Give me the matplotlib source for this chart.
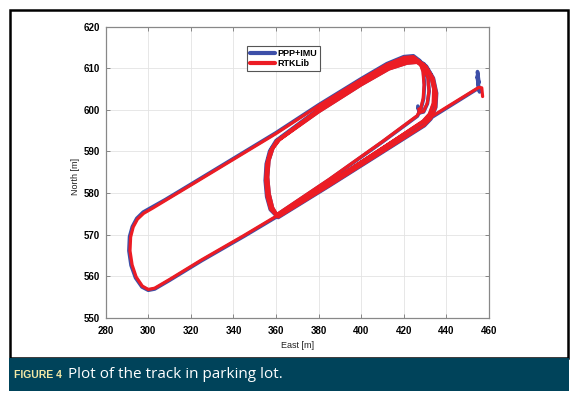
import matplotlib
matplotlib.use("Agg")
import matplotlib.pyplot as plt
from matplotlib.patches import Rectangle

# ---------------- data ----------------
red_east = [457.0, 456.6, 455.2,
            440.0, 425.0, 400.0, 380.0, 362.0,
            345.0, 325.0, 310.0, 303.0, 300.0, 297.2, 294.3, 292.4, 291.4, 291.7, 292.9, 294.9, 297.8, 302.2, 308.0,
            320.0, 340.0, 360.0, 380.0, 400.0, 412.0, 420.0, 424.5, 427.4, 429.0, 429.5, 429.1, 428.0, 426.3,
            410.0, 385.0, 360.0,
            357.4, 355.8, 355.1, 355.6, 357.2, 360.2,
            380.0, 400.0, 412.0, 420.0, 425.5, 429.5, 432.5, 434.0, 433.8, 432.0, 429.0,
            410.0, 385.0, 360.6,
            358.0, 356.3, 355.6, 356.2, 358.0, 361.0,
            380.0, 400.0, 413.0, 421.0, 426.0, 430.5, 433.8, 435.3, 434.9, 432.6, 429.6,
            410.0, 385.0, 361.0,
            358.4, 356.8, 356.1, 356.7, 358.6, 361.6,
            380.0, 400.0, 413.0, 421.5, 426.2, 429.5, 431.3, 431.8, 431.0, 429.2, 427.6, 427.0]
red_north = [603.2, 605.3, 605.4,
             600.6, 595.8, 587.5, 580.8, 575.0,
             569.8, 563.9, 559.2, 557.1, 556.8, 557.6, 559.8, 562.7, 566.1, 569.4, 571.8, 573.7, 575.1, 576.4, 578.2,
             581.9, 588.1, 594.3, 601.0, 607.3, 610.9, 612.6, 612.8, 611.6, 609.2, 606.0, 602.8, 600.4, 598.6,
             592.4, 583.3, 574.7,
             576.1, 579.1, 583.0, 587.0, 590.0, 592.5,
             600.1, 606.6, 610.3, 611.9, 612.2, 610.9, 608.4, 605.0, 601.6, 599.0, 597.3,
             590.8, 582.4, 574.4,
             576.3, 579.5, 583.5, 587.5, 590.5, 592.6,
             599.8, 606.3, 610.2, 611.6, 611.8, 610.4, 607.6, 604.0, 600.6, 597.9, 596.3,
             589.9, 581.8, 574.2,
             576.5, 579.8, 583.8, 587.8, 590.8, 592.8,
             599.5, 606.0, 609.8, 611.2, 611.4, 610.2, 607.6, 604.5, 601.6, 599.6, 599.4, 600.2]

blue_east = [455.0, 454.6, 455.3, 454.4, 455.6, 455.0,
             440.0, 425.0, 400.0, 380.0, 362.0,
             345.0, 325.0, 310.0, 303.0, 300.0, 297.0, 294.0, 291.9, 290.9, 291.2, 292.5, 294.6, 297.6, 302.1, 308.0,
             320.0, 340.0, 360.0, 380.0, 400.0, 412.0, 420.0, 424.5, 427.6, 429.2, 429.7, 429.3, 428.1, 426.4,
             410.0, 385.0, 360.0,
             357.3, 355.6, 354.9, 355.4, 357.0, 360.0,
             380.0, 400.0, 412.0, 420.0, 425.5, 429.6, 432.7, 434.2, 434.0, 432.1, 429.1,
             410.0, 385.0, 360.6,
             357.8, 356.1, 355.4, 356.0, 357.8, 360.9,
             380.0, 400.0, 413.0, 421.0, 426.0, 430.6, 433.9, 435.4, 435.0, 432.7, 429.7,
             410.0, 385.0, 361.0,
             358.3, 356.7, 356.0, 356.6, 358.5, 361.5,
             380.0, 400.0, 413.0, 421.5, 426.3, 429.6, 431.4, 431.9, 431.1, 429.3, 427.6, 426.8, 427.2, 426.6]
blue_north = [605.0, 609.2, 606.5, 608.0, 604.3, 605.2,
              600.4, 595.6, 587.3, 580.6, 574.8,
              569.6, 563.7, 559.0, 556.9, 556.6, 557.4, 559.6, 562.6, 566.1, 569.5, 571.9, 573.9, 575.4, 576.7, 578.4,
              582.1, 588.3, 594.5, 601.2, 607.5, 611.1, 612.8, 613.0, 611.8, 609.3, 606.0, 602.7, 600.3, 598.5,
              592.3, 583.2, 574.6,
              576.0, 579.1, 583.0, 587.0, 590.1, 592.6,
              600.2, 606.7, 610.4, 612.0, 612.3, 611.0, 608.5, 605.0, 601.5, 598.9, 597.2,
              590.7, 582.3, 574.3,
              576.2, 579.5, 583.5, 587.5, 590.6, 592.7,
              599.9, 606.4, 610.3, 611.7, 611.9, 610.5, 607.6, 604.0, 600.6, 597.8, 596.2,
              589.8, 581.7, 574.1,
              576.4, 579.8, 583.8, 587.8, 590.8, 592.9,
              599.6, 606.1, 609.9, 611.3, 611.5, 610.3, 607.7, 604.5, 601.5, 599.5, 599.3, 600.5, 599.4, 600.9]

series_labels = ["PPP+IMU", "RTKLib"]
x_ticks = [280, 300, 320, 340, 360, 380, 400, 420, 440, 460]
y_ticks = [550, 560, 570, 580, 590, 600, 610, 620]
x_label = "East [m]"
y_label = "North [m]"
caption_tag = "FIGURE 4"
caption_text = "Plot of the track in parking lot."

# ---------------- figure ----------------
BLUE = "#3d4fa8"
RED = "#ec1c24"
TEAL = "#00435a"

fig = plt.figure(figsize=(5.8, 3.98), dpi=100)
fig.patch.set_facecolor("white")

# outer frame
fig.patches.append(Rectangle((10 / 580, 1 - 358 / 398), 558 / 580, 348 / 398,
                             transform=fig.transFigure, fill=False,
                             edgecolor="black", linewidth=1.8, zorder=0))
# caption bar
fig.patches.append(Rectangle((9 / 580, 1 - 391 / 398), 560 / 580, 33 / 398,
                             transform=fig.transFigure, facecolor=TEAL,
                             edgecolor="none", zorder=1))

ax = fig.add_axes([105.7 / 580, 1 - 317.7 / 398, 383.3 / 580, 291.0 / 398])

ax.plot(blue_east, blue_north, color=BLUE, lw=2.6, solid_joinstyle="round",
        solid_capstyle="round", label=series_labels[0], zorder=3)
ax.plot(red_east, red_north, color=RED, lw=2.3, solid_joinstyle="round",
        solid_capstyle="round", label=series_labels[1], zorder=4)

ax.set_xlim(280, 460)
ax.set_ylim(550, 620)
ax.set_xticks(x_ticks)
ax.set_yticks(y_ticks)
ax.set_xticklabels([str(v) for v in x_ticks], fontfamily="Liberation Sans",
                   fontweight="bold", fontsize=7)
ax.set_yticklabels([str(v) for v in y_ticks], fontfamily="Liberation Sans",
                   fontweight="bold", fontsize=7)
ax.tick_params(direction="in", length=3, width=0.6, color="#777777",
               top=True, right=True)
ax.tick_params(axis="x", pad=6)
ax.tick_params(axis="y", pad=4)
ax.grid(True, color="#e3e3e3", lw=0.6)
ax.set_axisbelow(True)
for s in ax.spines.values():
    s.set_color("#888888")
    s.set_linewidth(0.9)

leg = ax.legend(loc="upper left", bbox_to_anchor=(0.369, 0.933), borderaxespad=0,
                prop={"family": "Liberation Sans", "weight": "bold", "size": 6.5},
                handlelength=2.8, handletextpad=0.25, borderpad=0.3,
                labelspacing=0.15, fancybox=False, framealpha=1)
leg.get_frame().set_edgecolor("#555555")
leg.get_frame().set_linewidth(0.8)
for line in leg.get_lines():
    line.set_linewidth(3.0)

fig.text(297.4 / 580, 1 - 345 / 398, x_label, ha="center", va="center",
         fontsize=6.5, fontfamily="Liberation Sans", color="#222222")
fig.text(76 / 580, 1 - 176.5 / 398, y_label, ha="center", va="center",
         rotation=90, fontsize=6.5, fontfamily="Liberation Sans", color="#222222")

fig.text(14 / 580, 1 - 375 / 398, caption_tag, ha="left", va="center",
         fontsize=7.5, fontweight="bold", color="#f3e9a6",
         fontfamily="Liberation Sans")
fig.text(68 / 580, 1 - 375 / 398, caption_text, ha="left", va="center",
         fontsize=11, color="white", fontfamily="Open Sans")

fig.savefig("out.png", dpi=100)
